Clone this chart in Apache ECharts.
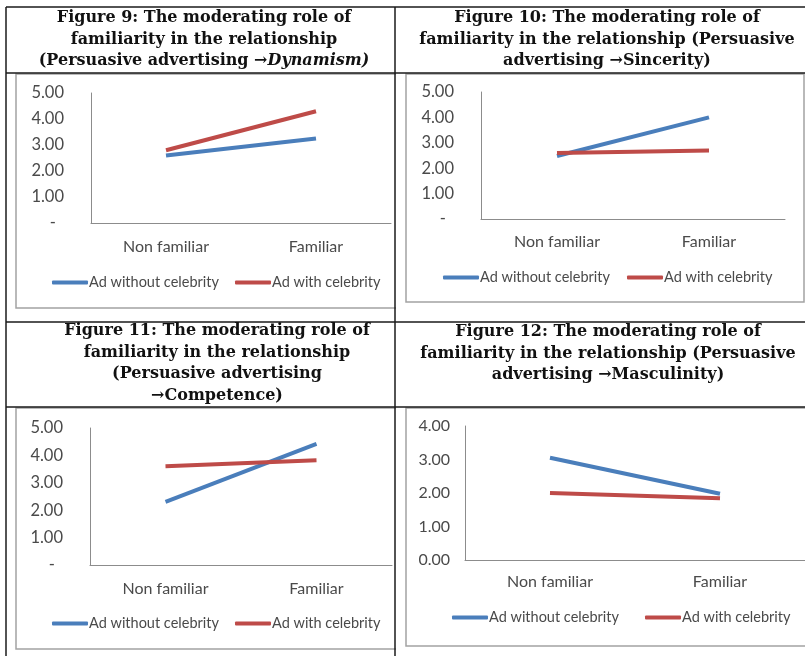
<!DOCTYPE html>
<html><head><meta charset="utf-8">
<script src="https://cdn.jsdelivr.net/npm/echarts@6/dist/echarts.min.js"></script>
<style>html,body{margin:0;padding:0;background:#fff}#c{width:805px;height:656px}</style>
</head><body><div id="c"></div>
<script>
// ---- data ----
const categories = ['Non familiar', 'Familiar'];
const seriesNames = ['Ad without celebrity', 'Ad with celebrity'];
const fig9Without = [2.6, 3.25];
const fig9With = [2.8, 4.3];
const fig10Without = [2.48, 4.0];
const fig10With = [2.6, 2.7];
const fig11Without = [2.3, 4.42];
const fig11With = [3.6, 3.82];
const fig12Without = [3.05, 1.98];
const fig12With = [2.0, 1.84];
const ticksAccounting = ['-', '1.00', '2.00', '3.00', '4.00', '5.00'];
const ticksGeneral = ['0.00', '1.00', '2.00', '3.00', '4.00'];
const title9 = ['Figure 9: The moderating role of', 'familiarity in the relationship', '(Persuasive advertising \u2192{i|Dynamism)}'];
const title10 = ['Figure 10: The moderating role of', 'familiarity in the relationship (Persuasive', 'advertising \u2192Sincerity)'];
const title11 = ['Figure 11: The moderating role of', 'familiarity in the relationship', '(Persuasive advertising', '\u2192Competence)'];
const title12 = ['Figure 12: The moderating role of', 'familiarity in the relationship (Persuasive', 'advertising \u2192Masculinity)'];

// ---- layout ----
const panels = [
  {data: [fig9Without, fig9With], ticks: ticksAccounting, max: 5, grid: {left: 91, top: 93, width: 300, height: 130}, lblMargin: 27, tickSize: 16.5, catMargin: 16, legY: 283, legX: [52, 235]},
  {data: [fig10Without, fig10With], ticks: ticksAccounting, max: 5, grid: {left: 481, top: 92, width: 304, height: 127}, lblMargin: 27, tickSize: 16.5, catMargin: 15, legY: 278, legX: [443, 627]},
  {data: [fig11Without, fig11With], ticks: ticksAccounting, max: 5, grid: {left: 90, top: 428, width: 302, height: 137}, lblMargin: 27, tickSize: 16.5, catMargin: 16, legY: 624, legX: [52, 235]},
  {data: [fig12Without, fig12With], ticks: ticksGeneral, max: 4, grid: {left: 465, top: 426, width: 350, height: 134}, lblMargin: 15, tickSize: 16, catMargin: 14, legY: 618, legX: [452, 645]}
];
const colors = ['#4A7EBB', '#BE4B48'];
const txt = '#4a4a4a';
const axisCol = '#8c8c8c';

const grids = [], xAxes = [], yAxes = [], series = [], legends = [];
panels.forEach((p, i) => {
  grids.push(Object.assign({containLabel: false}, p.grid));
  xAxes.push({type: 'category', gridIndex: i, data: categories, boundaryGap: true,
    axisLine: {show: true, lineStyle: {color: axisCol, width: 1}}, axisTick: {show: false},
    axisLabel: {margin: p.catMargin, fontFamily: 'Lato', fontSize: 16, color: txt}, splitLine: {show: false}});
  yAxes.push({type: 'value', gridIndex: i, min: 0, max: p.max, interval: 1,
    axisLine: {show: true, lineStyle: {color: axisCol, width: 1}}, axisTick: {show: false}, splitLine: {show: false},
    axisLabel: {margin: p.lblMargin, fontFamily: 'Lato', fontSize: p.tickSize, color: txt,
      formatter: (v) => { const s = p.ticks[Math.round(v)]; return s === '-' ? '{d|-}' : s; },
      rich: {d: {fontFamily: 'Lato', fontSize: p.tickSize, color: txt, padding: [0, 8, 0, 0]}}}});
  p.data.forEach((d, k) => {
    series.push({type: 'line', name: seriesNames[k], xAxisIndex: i, yAxisIndex: i, data: d,
      symbol: 'none', showSymbol: false, lineStyle: {width: 4, color: colors[k]}, itemStyle: {color: colors[k]}, z: 3 + k});
    legends.push({data: [seriesNames[k]], left: p.legX[k], top: p.legY - 8, padding: 0, icon: 'roundRect',
      itemWidth: 36, itemHeight: 4, selectedMode: false,
      textStyle: {fontFamily: 'Lato', fontSize: 14.5, color: txt, padding: [0, 0, 0, -4]}});
  });
});

const tFont = {fontFamily: 'DejaVu Serif', fontWeight: 'bold', fontSize: 16, fill: '#111'};
function titleEl(lines, cx, cy) {
  return {type: 'text', z: 10, style: Object.assign({text: lines.join('\n'), x: cx, y: cy, align: 'center', verticalAlign: 'middle',
    lineHeight: 21.5, rich: {i: {fontFamily: 'DejaVu Serif', fontWeight: 'bold', fontStyle: 'italic', fontSize: 16, fill: '#111', lineHeight: 21.5}}}, tFont)};
}
const boxStroke = {fill: 'none', stroke: '#a3a3a3', lineWidth: 1.5};
const tbl = {stroke: '#1a1a1a', lineWidth: 1.5};
const graphic = [
  {type: 'polyline', z: 1, shape: {points: [[396, 74], [16, 74], [16, 308], [396, 308]]}, style: boxStroke},
  {type: 'rect', z: 1, shape: {x: 406, y: 74, width: 398, height: 228}, style: boxStroke},
  {type: 'polyline', z: 1, shape: {points: [[396, 408], [16, 408], [16, 649], [396, 649]]}, style: boxStroke},
  {type: 'polyline', z: 1, shape: {points: [[808, 408], [406, 408], [406, 646], [808, 646]]}, style: boxStroke},
  {type: 'line', z: 5, shape: {x1: 6, y1: 7, x2: 805, y2: 7}, style: tbl},
  {type: 'line', z: 5, shape: {x1: 6, y1: 73, x2: 805, y2: 73}, style: tbl},
  {type: 'line', z: 5, shape: {x1: 6, y1: 322, x2: 805, y2: 322}, style: tbl},
  {type: 'line', z: 5, shape: {x1: 6, y1: 407, x2: 805, y2: 407}, style: tbl},
  {type: 'line', z: 5, shape: {x1: 6, y1: 7, x2: 6, y2: 656}, style: tbl},
  {type: 'line', z: 5, shape: {x1: 395, y1: 7, x2: 395, y2: 656}, style: tbl},
  titleEl(title9, 204, 39.5),
  titleEl(title10, 607, 39.5),
  titleEl(title11, 217, 363.5),
  titleEl(title12, 608, 353.5)
];

const chart = echarts.init(document.getElementById('c'), null, {renderer: 'canvas'});
chart.setOption({animation: false, backgroundColor: '#fff', grid: grids, xAxis: xAxes, yAxis: yAxes, series, legend: legends, graphic});
</script></body></html>
